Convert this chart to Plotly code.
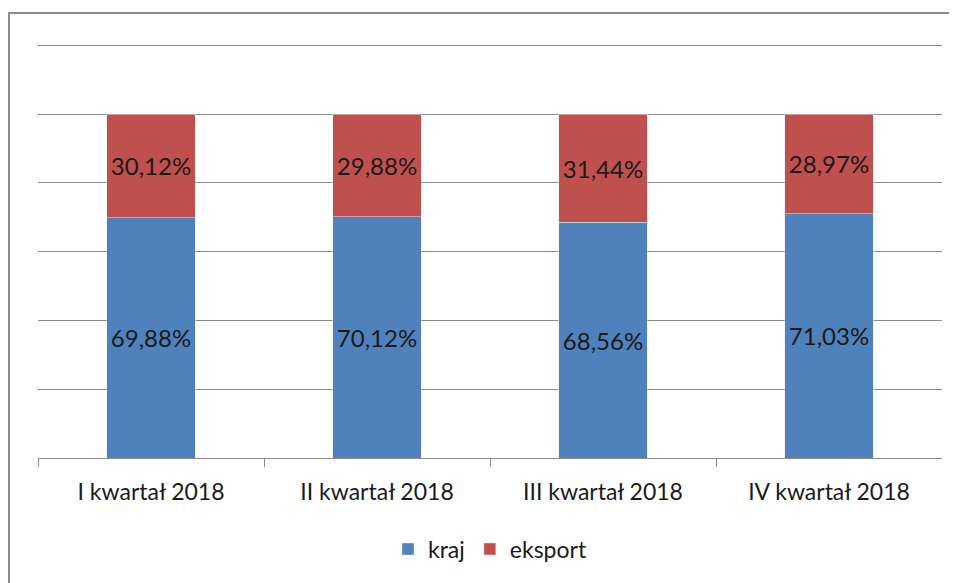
import plotly.graph_objects as go

kwartaly = ["I kwartał 2018", "II kwartał 2018", "III kwartał 2018", "IV kwartał 2018"]
kraj = [69.88, 70.12, 68.56, 71.03]
eksport = [30.12, 29.88, 31.44, 28.97]

font = "Lato, Open Sans, sans-serif"

fig = go.Figure()
fig.add_trace(go.Bar(x=kwartaly, y=kraj, name="kraj", marker_color="#4F81BD",
                     texttemplate="%{y:.2f}%", textposition="inside",
                     insidetextanchor="middle", textangle=0,
                     textfont=dict(size=24, color="#1a1a1a", family=font)))
fig.add_trace(go.Bar(x=kwartaly, y=eksport, name="eksport", marker_color="#C0504D",
                     texttemplate="%{y:.2f}%", textposition="inside",
                     insidetextanchor="middle", textangle=0,
                     textfont=dict(size=24, color="#1a1a1a", family=font)))
# empty helper trace so the frame axes (x2/y2) get drawn
fig.add_trace(go.Scatter(x=[0], y=[0], xaxis="x2", yaxis="y2", mode="markers",
                         marker=dict(opacity=0), showlegend=False, hoverinfo="skip"))

# page body has an 8px margin, so the figure is 8px smaller than the window.
# The paper starts at the chart-area border (top/left), the plot sits inside it.
W, H = 949, 575
ml, mt = 2, 6
pw, ph = W - ml, H - mt
fig.update_layout(
    barmode="stack",
    bargap=0.61,
    separators=", ",
    width=W,
    height=H,
    margin=dict(l=ml, r=0, t=mt, b=0),
    plot_bgcolor="rgba(0,0,0,0)",
    paper_bgcolor="white",
    font=dict(family=font, size=20, color="#1a1a1a"),
    showlegend=True,
    legend=dict(orientation="h", x=(490 - 10) / pw, xanchor="center",
                y=(583 - 549) / ph, yanchor="middle",
                font=dict(size=23), itemwidth=30, traceorder="normal"),
)
fig.update_layout(
    xaxis=dict(domain=[(38 - 10) / pw, (942 - 10) / pw], anchor="y",
               showline=True, linecolor="#8c8c8c", linewidth=1, ticks="outside",
               tickson="boundaries", ticklen=8, tickcolor="#8c8c8c",
               tickfont=dict(size=23), ticklabelstandoff=13),
    yaxis=dict(domain=[(583 - 458) / ph, (583 - 44) / ph], anchor="x",
               range=[0, 120.4], dtick=20, showticklabels=False, showgrid=True,
               gridcolor="#8c8c8c", gridwidth=1, zeroline=False),
    # chart-area border: only its top and left edges fall inside the crop
    xaxis2=dict(domain=[0, 1], anchor="y2", side="top", showline=True,
                linecolor="#8c8c8c", linewidth=2, showgrid=False, zeroline=False,
                showticklabels=False, ticks=""),
    yaxis2=dict(domain=[0, 1], anchor="x2", side="left", showline=True,
                linecolor="#8c8c8c", linewidth=2, showgrid=False, zeroline=False,
                showticklabels=False, ticks=""),
)

fig.write_html("out.html")
